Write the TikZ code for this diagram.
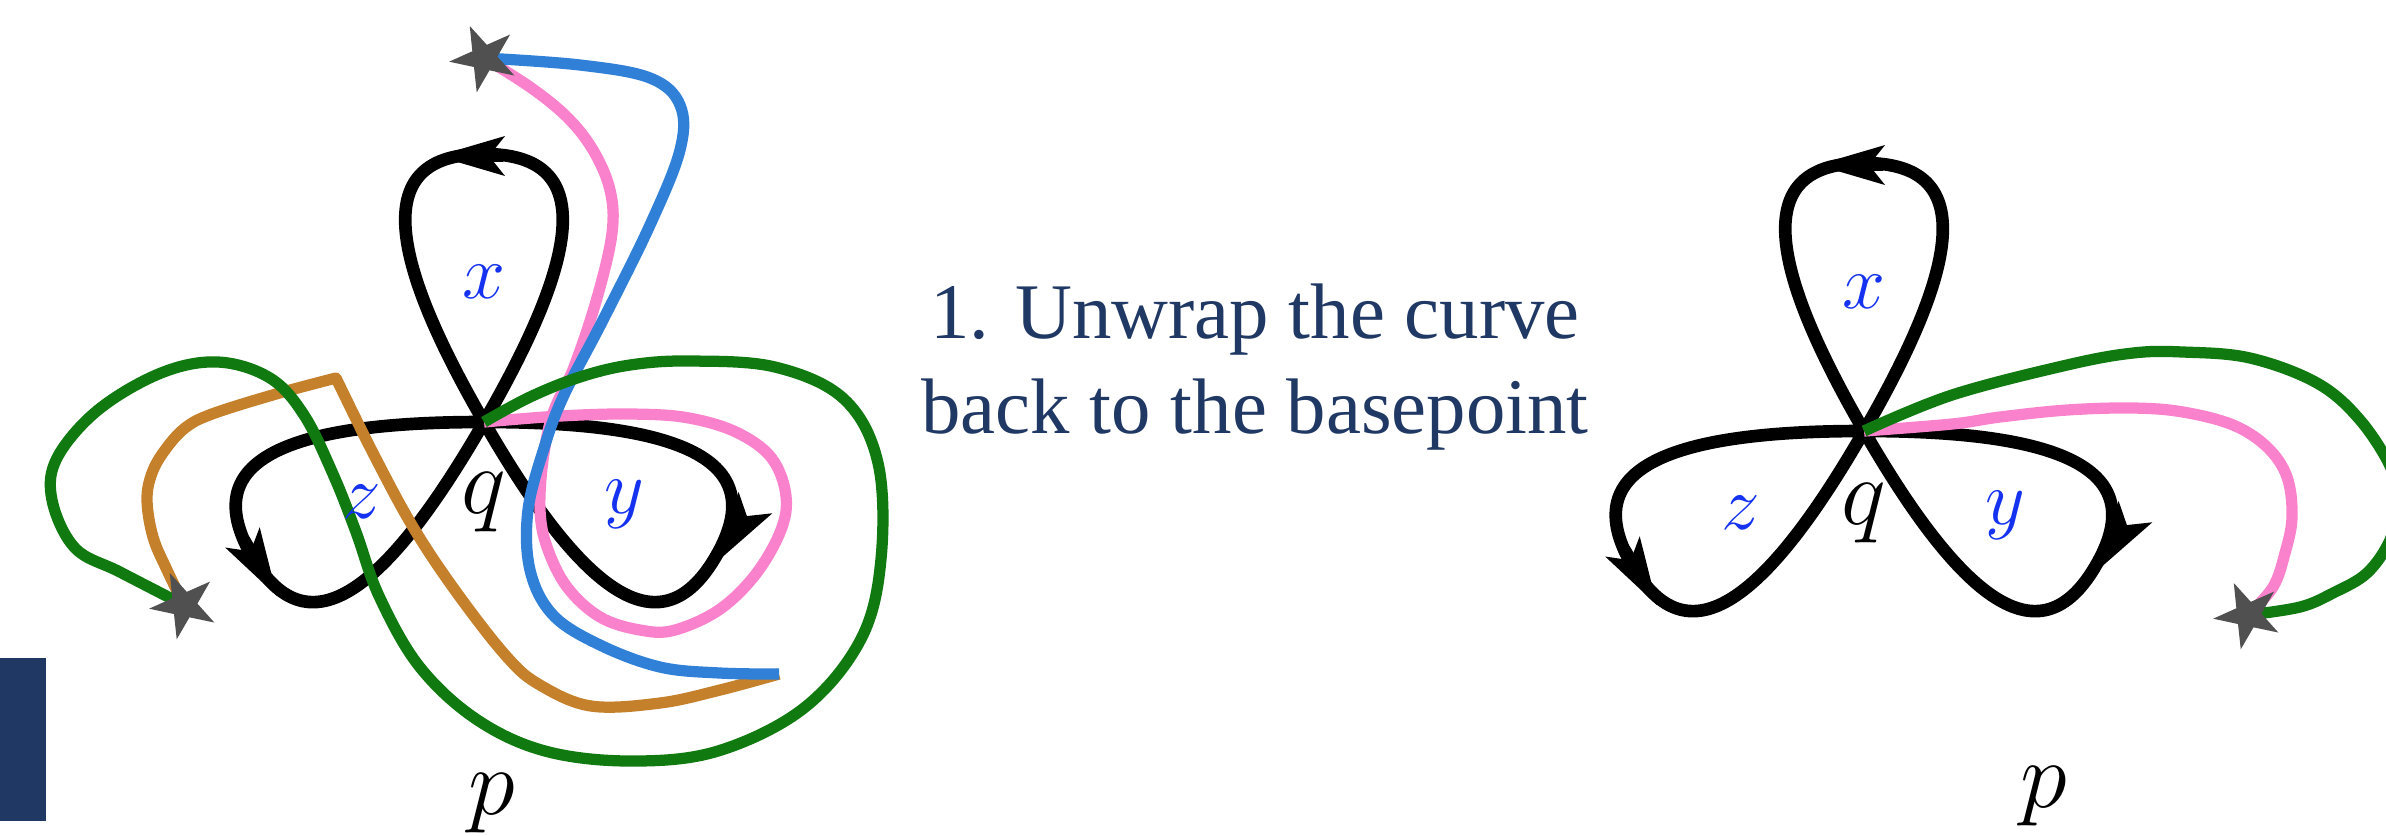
\RequirePackage{fix-cm}
\documentclass[tikz,border=0pt]{standalone}
\usepackage{fontspec}
\setmainfont{Liberation Serif}
\usepackage{xcolor}
\usepackage{tikz}
\usetikzlibrary{arrows.meta,shapes.geometric}

\definecolor{navy}{RGB}{32,56,100}
\definecolor{curveblue}{RGB}{48,128,216}
\definecolor{curvepink}{RGB}{250,130,205}
\definecolor{curvegreen}{RGB}{16,122,16}
\definecolor{curveorange}{RGB}{196,128,42}
\definecolor{labelblue}{RGB}{20,50,240}
\definecolor{stargray}{RGB}{80,80,80}

\begin{document}
\begin{tikzpicture}[
    x=0.01cm, y=-0.01cm,
    loopline/.style={line width=3.6pt, line cap=round, line join=round},
    looptip/.style={-{Stealth[length=6.8mm,width=4mm,inset=1.6mm,line width=0pt]},
        line width=3.6pt},
    strand/.style={line width=3.2pt, line join=round},
    basept/.style={star, star points=5, star point ratio=2.6, fill=stargray,
        minimum size=0.7cm, inner sep=0pt, rotate=24},
    looplabel/.style={text=labelblue, font=\fontsize{22}{26}\selectfont},
    ptlabel/.style={font=\fontsize{27}{31}\selectfont}
]

\useasboundingbox (0,0) rectangle (2386,835);
\clip (0,0) rectangle (2386,835);

% -------------------------------------------------
% Basepoints, crossings and curve ends
% -------------------------------------------------

\coordinate (qL) at (484,422);
\coordinate (qR) at (1864,431);
\coordinate (starTop) at (484,58);
\coordinate (starLeft) at (184,605);
\coordinate (starRight) at (2248,615);
\coordinate (endL) at (779,674);

% -------------------------------------------------
% Three loops x, y, z through q (both pictures)
% -------------------------------------------------

\foreach \cx/\cy in {484/422,1864/431}{
  \begin{scope}[shift={(\cx,\cy)}]
    % x loop
    \draw[loopline]
      (0,0) .. controls (110,-190) and (100,-268) .. (0,-268)
            .. controls (-100,-268) and (-110,-190) .. (0,0);
    \draw[looptip] (19,-266) -- (-47,-266);
    % y loop
    \draw[loopline, rotate=-120]
      (0,0) .. controls (-110,-190) and (-100,-268) .. (0,-268)
            .. controls (100,-268) and (110,-190) .. (0,0);
    \draw[looptip] (261,97) -- (235,138);
    % z loop
    \draw[loopline, rotate=120]
      (0,0) .. controls (110,-190) and (100,-268) .. (0,-268)
            .. controls (-100,-268) and (-110,-190) .. (0,0);
    \draw[looptip] (-240,118) -- (-207,174);
  \end{scope}
}

% -------------------------------------------------
% Wrapped curves (left)
% -------------------------------------------------

\draw[strand, curveorange]
  plot[smooth, tension=0.6] coordinates {
    (starLeft) (167,570) (153,537) (147,500) (152,473) (165,450)
    (185,428) (212,414) (276,394) (336,378)}
  -- plot[smooth, tension=0.6] coordinates {
    (336,378) (373,453) (413,527) (457,593) (507,657) (540,685)
    (591,706) (660,703) (720,690) (endL)};

\draw[strand, curvepink]
  plot[smooth, tension=0.6] coordinates {
    (starTop) (530,87) (567,117) (593,150) (610,190) (612,233)
    (597,298) (574,367) (553,413) (543,460) (540,510) (547,547)
    (567,587) (600,617) (640,630) (675,630) (723,607) (763,564)
    (786,511) (775,463) (740,434) (689,418) (631,414) (560,416) (qL)};

\draw[strand, curveblue]
  plot[smooth, tension=0.6] coordinates {
    (starTop) (580,65) (650,78) (680,105) (680,150) (650,225)
    (603,320) (564,395) (545,445) (528,510) (530,570) (553,615)
    (600,645) (660,667) (720,673) (endL)};

\draw[strand, curvegreen]
  plot[smooth, tension=0.6] coordinates {
    (qL) (530,397) (580,377) (630,365) (689,361) (775,367) (844,399)
    (878,463) (881,559) (861,639) (804,708) (718,751) (631,761)
    (545,751) (476,719) (419,666) (379,596) (356,532) (333,474)
    (304,415) (270,378) (218,362) (161,373) (98,410) (57,458)
    (52,500) (75,548) (120,572) (starLeft)};

% -------------------------------------------------
% Unwrapped curves (right)
% -------------------------------------------------

\draw[strand, curvepink]
  plot[smooth, tension=0.6] coordinates {
    (qR) (1952,424) (2000,417) (2067,410) (2133,408) (2183,412)
    (2233,425) (2267,447) (2287,477) (2292,517) (2285,553)
    (2273,587) (starRight)};

\draw[strand, curvegreen]
  plot[smooth, tension=0.6] coordinates {
    (qR) (1952,395) (2067,365) (2133,353) (2183,352) (2250,358)
    (2317,383) (2360,420) (2392,470) (2398,505) (2390,540)
    (2367,573) (2333,593) (2300,607) (starRight)};

% -------------------------------------------------
% Basepoint stars
% -------------------------------------------------

\node[basept] (markTop) at (starTop) {};
\node[basept] (markLeft) at (starLeft) {};
\node[basept] (markRight) at (starRight) {};

% -------------------------------------------------
% Labels
% -------------------------------------------------

\node[looplabel] (xL) at (484,282) {$x$};
\node[looplabel] (zL) at (362,502) {$z$};
\node[looplabel] (yL) at (624,504) {$y$};
\node[ptlabel]   (qLabL) at (484,502) {$q$};
\node[ptlabel]   (pLabL) at (492,803) {$p$};

\node[looplabel] (xR) at (1864,292) {$x$};
\node[looplabel] (zR) at (1741,513) {$z$};
\node[looplabel] (yR) at (2005,515) {$y$};
\node[ptlabel]   (qLabR) at (1864,513) {$q$};
\node[ptlabel]   (pLabR) at (2044,796) {$p$};

% -------------------------------------------------
% Step text and side bar
% -------------------------------------------------

\node[
    align=center,
    text=navy,
    font=\fontsize{22.4}{27}\selectfont
] (step) at (1255,367)
{1. Unwrap the curve\\back to the basepoint};

\fill[navy] (0,658) rectangle (46,821);

\end{tikzpicture}
\end{document}
